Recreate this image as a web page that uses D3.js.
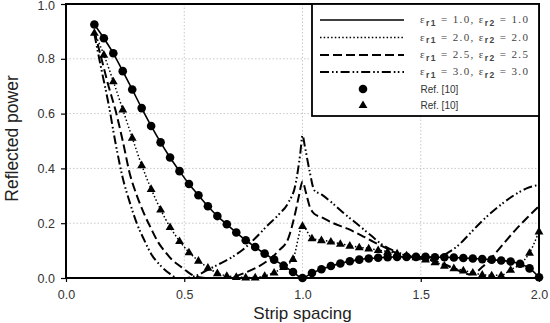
<!DOCTYPE html>
<html>
<head>
<meta charset="utf-8">
<script src="https://cdn.jsdelivr.net/npm/d3@7/dist/d3.min.js"></script>
<style>
  html, body { margin: 0; padding: 0; background: #fff; }
  svg { display: block; }
</style>
</head>
<body>
<svg id="chart" width="550" height="323"></svg>
<script>
// ---------------- DATA ----------------
const xTicks = [0.0, 0.5, 1.0, 1.5, 2.0];
const yTicks = [0.0, 0.2, 0.4, 0.6, 0.8, 1.0];
const xTitle = "Strip spacing";
const yTitle = "Reflected power";

// Reference points (markers) — strip spacing
const refSpacing = [0.12,0.16,0.20,0.24,0.28,0.32,0.36,0.40,0.44,0.48,
                    0.52,0.56,0.60,0.64,0.68,0.72,0.76,0.80,0.84,0.88,
                    0.92,0.96,1.00,1.04,1.08,1.12,1.16,1.20,1.24,1.28,
                    1.32,1.36,1.40,1.44,1.48,1.52,1.56,1.60,1.64,1.68,
                    1.72,1.76,1.80,1.84,1.88,1.92,1.96,2.00];
// er1 = er2 = 1.0 (solid line, circles)
const power10 = [0.925,0.875,0.82,0.755,0.688,0.62,0.555,0.495,0.44,0.39,
                 0.343,0.302,0.262,0.226,0.196,0.166,0.138,0.113,0.089,0.067,
                 0.045,0.022,0.0,0.018,0.032,0.044,0.053,0.061,0.067,0.071,
                 0.074,0.076,0.077,0.077,0.077,0.077,0.076,0.076,0.075,0.073,
                 0.071,0.069,0.067,0.064,0.06,0.052,0.035,0.003];
// er1 = er2 = 2.0 (dotted line, triangles)
const power20 = [0.895,0.815,0.718,0.615,0.512,0.412,0.325,0.25,0.186,0.135,
                 0.094,0.063,0.038,0.018,0.008,0.004,0.002,0.002,0.008,0.02,
                 0.04,0.07,0.19,0.145,0.138,0.133,0.125,0.118,0.112,0.108,
                 0.102,0.096,0.09,0.083,0.076,0.068,0.058,0.045,0.036,0.028,
                 0.02,0.012,0.01,0.01,0.03,0.05,0.092,0.17];
// er1 = er2 = 2.5 (dashed)
const spacing25 = [0.12,0.15,0.18,0.21,0.24,0.27,0.30,0.33,0.36,0.39,0.42,0.45,0.48,0.51,0.55,0.60,0.66,0.71,0.76,0.81,0.86,0.90,0.94,0.97,0.985,1.0,1.015,1.03,1.05,1.08,1.13,1.19,1.25,1.30,1.36,1.40,1.45,1.50,1.55,1.60,1.64,1.68,1.70,1.72,1.76,1.80,1.85,1.90,1.95,2.0];
const power25   = [0.9,0.8,0.7,0.61,0.5,0.38,0.3,0.235,0.18,0.13,0.095,0.065,0.045,0.025,0.005,0.0,0.0,0.005,0.02,0.04,0.068,0.1,0.145,0.24,0.3,0.352,0.31,0.262,0.234,0.222,0.2,0.18,0.155,0.132,0.106,0.09,0.078,0.07,0.064,0.05,0.035,0.02,0.014,0.015,0.04,0.075,0.125,0.175,0.22,0.262];
// er1 = er2 = 3.0 (dash-dot-dot)
const spacing30 = [0.12,0.15,0.18,0.21,0.24,0.27,0.30,0.33,0.36,0.40,0.44,0.47,0.50,0.55,0.60,0.65,0.70,0.75,0.80,0.85,0.90,0.94,0.97,0.99,1.0,1.01,1.03,1.05,1.08,1.12,1.17,1.23,1.29,1.34,1.40,1.45,1.50,1.55,1.58,1.62,1.66,1.70,1.75,1.80,1.85,1.90,1.95,2.0];
const power30   = [0.89,0.76,0.635,0.49,0.365,0.275,0.198,0.14,0.088,0.045,0.015,0.0,0.0,0.008,0.03,0.052,0.075,0.105,0.145,0.19,0.232,0.275,0.34,0.45,0.52,0.48,0.39,0.32,0.305,0.278,0.24,0.198,0.155,0.12,0.095,0.08,0.075,0.075,0.078,0.095,0.12,0.155,0.2,0.24,0.275,0.305,0.328,0.34];

const legendLabels = [["1.0","1.0"],["2.0","2.0"],["2.5","2.5"],["3.0","3.0"]];
const refLabel = "Ref. [10]";

// ---------------- LAYOUT ----------------
const svg = d3.select("#chart");
const L = 66, R = 539, T = 4, B = 278;
const x = d3.scaleLinear().domain([0, 2]).range([L, R]);
const y = d3.scaleLinear().domain([0, 1]).range([B, T]);

const styles = {
  solid:   { dash: null, w: 1.6 },
  dotted:  { dash: "1.5,2.2", w: 1.5 },
  dashed:  { dash: "9,4", w: 2 },
  dashdot: { dash: "9,3,1.6,2.4,1.6,3", w: 2 }
};

// grid
const grid = svg.append("g");
grid.selectAll("line.gx").data([0.5, 1.0, 1.5]).enter().append("line")
  .attr("x1", d => x(d)).attr("x2", d => x(d)).attr("y1", T).attr("y2", B)
  .attr("stroke", "#c8c8c8").attr("stroke-width", 1).attr("stroke-dasharray", "1.5,2");
grid.selectAll("line.gy").data([0.2, 0.4, 0.6, 0.8]).enter().append("line")
  .attr("x1", L).attr("x2", R).attr("y1", d => y(d)).attr("y2", d => y(d))
  .attr("stroke", "#c8c8c8").attr("stroke-width", 1).attr("stroke-dasharray", "1.5,2");

// axes
const fmt = d3.format(".1f");
const xAxis = svg.append("g").attr("transform", `translate(0,${B})`)
  .call(d3.axisBottom(x).tickValues(xTicks).tickFormat(fmt).tickSize(4).tickPadding(8));
const yAxis = svg.append("g").attr("transform", `translate(${L},0)`)
  .call(d3.axisLeft(y).tickValues(yTicks).tickFormat(fmt).tickSize(5).tickPadding(6));
[xAxis, yAxis].forEach(a => {
  a.select(".domain").remove();
  a.selectAll(".tick line").attr("stroke", "#000").attr("stroke-width", 1.2);
  a.selectAll("text").attr("font-family", "'Liberation Sans', Arial, sans-serif")
    .attr("font-size", 12.5).attr("fill", "#333");
});
// keep the top label just inside the picture
yAxis.selectAll(".tick text").filter(d => d === 1.0).attr("dy", "0.45em");

// lines
function drawLine(xs, ys, st) {
  const pts = xs.map((d, i) => [d, ys[i]]);
  svg.append("path").datum(pts)
    .attr("d", d3.line().x(d => x(d[0])).y(d => y(d[1])).curve(d3.curveMonotoneX))
    .attr("fill", "none").attr("stroke", "#000")
    .attr("stroke-width", st.w)
    .attr("stroke-dasharray", st.dash);
}
drawLine(spacing30, power30, styles.dashdot);
drawLine(spacing25, power25, styles.dashed);
drawLine(refSpacing, power20, styles.dotted);
drawLine(refSpacing, power10, styles.solid);

// markers
const tri = d3.symbol().type(d3.symbolTriangle).size(34);
svg.append("g").selectAll("path").data(refSpacing.map((d, i) => [d, power20[i]])).enter()
  .append("path").attr("d", tri)
  .attr("transform", d => `translate(${x(d[0])},${y(d[1]) + 0.5})`).attr("fill", "#000");
svg.append("g").selectAll("circle").data(refSpacing.map((d, i) => [d, power10[i]])).enter()
  .append("circle").attr("cx", d => x(d[0])).attr("cy", d => y(d[1])).attr("r", 4.3).attr("fill", "#000");

// frame
svg.append("rect").attr("x", L).attr("y", T).attr("width", R - L).attr("height", B - T)
  .attr("fill", "none").attr("stroke", "#000").attr("stroke-width", 2);

// legend
const lg = svg.append("g");
lg.append("rect").attr("x", 312).attr("y", T).attr("width", R - 312).attr("height", 112)
  .attr("fill", "#fff").attr("stroke", "#000").attr("stroke-width", 1.8);
const lineStyles = [styles.solid, styles.dotted, styles.dashed, styles.dashdot];
const rowsY = [20, 37.5, 55, 72, 89, 105];
legendLabels.forEach((lab, i) => {
  const st = lineStyles[i];
  lg.append("line").attr("x1", 320).attr("x2", 404).attr("y1", rowsY[i]).attr("y2", rowsY[i])
    .attr("stroke", "#000").attr("stroke-width", st.w).attr("stroke-dasharray", st.dash);
  const t = lg.append("text").attr("x", 420).attr("y", rowsY[i] + 3)
    .attr("font-family", "'Liberation Serif', 'Times New Roman', serif")
    .attr("font-size", 11).attr("fill", "#444")
    .attr("textLength", 108).attr("lengthAdjust", "spacing");
  t.append("tspan").text("ε");
  t.append("tspan").attr("dy", 2.5).attr("font-family", "'Liberation Sans', Arial, sans-serif")
    .attr("font-size", 8.5).attr("font-weight", "bold").text("r1");
  t.append("tspan").attr("dy", -2.5).text(" = " + lab[0] + ", ε");
  t.append("tspan").attr("dy", 2.5).attr("font-family", "'Liberation Sans', Arial, sans-serif")
    .attr("font-size", 8.5).attr("font-weight", "bold").text("r2");
  t.append("tspan").attr("dy", -2.5).text(" = " + lab[1]);
});
lg.append("circle").attr("cx", 363).attr("cy", rowsY[4]).attr("r", 4.3).attr("fill", "#000");
lg.append("path").attr("d", tri).attr("transform", `translate(363,${rowsY[5] + 0.5})`).attr("fill", "#000");
[4, 5].forEach(i => {
  lg.append("text").attr("x", 420.5).attr("y", rowsY[i] + 3.5)
    .attr("font-family", "'Liberation Sans', Arial, sans-serif")
    .attr("font-size", 10).attr("fill", "#333").text(refLabel);
});

// axis titles
svg.append("text").attr("x", (L + R) / 2).attr("y", 318.5).attr("text-anchor", "middle")
  .attr("font-family", "'Liberation Sans', Arial, sans-serif").attr("font-size", 17)
  .attr("fill", "#222").text(xTitle);
svg.append("text").attr("transform", `translate(17.5,${138.5}) rotate(-90)`).attr("text-anchor", "middle")
  .attr("font-family", "'Liberation Sans', Arial, sans-serif").attr("font-size", 17.5)
  .attr("fill", "#222").text(yTitle);
</script>
</body>
</html>
